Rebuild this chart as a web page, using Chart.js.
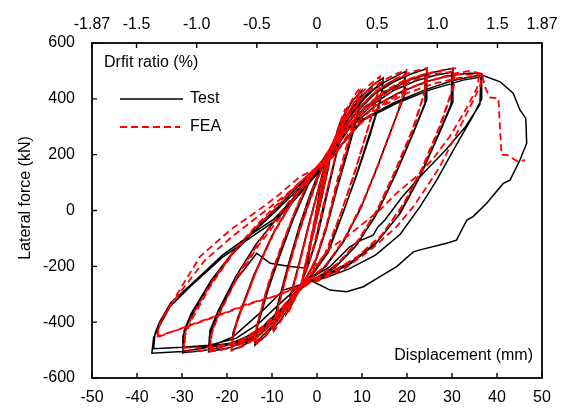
<!DOCTYPE html>
<html>
<head>
<meta charset="utf-8">
<script src="https://cdn.jsdelivr.net/npm/chart.js@4.4.1/dist/chart.umd.min.js"></script>
<style>
  html, body { margin: 0; padding: 0; background: #fff; }
  canvas { display: block; }
</style>
</head>
<body>
<canvas id="hysteresis" width="563" height="416"></canvas>
<script>
// axis ranges
const dispMin = -50, dispMax = 50, dispStep = 10;
const forceMin = -600, forceMax = 600, forceStep = 200;
const driftMax = 1.87;
const driftTicks = [-1.87, -1.5, -1.0, -0.5, 0, 0.5, 1.0, 1.5, 1.87];
const driftLabels = ['-1.87', '-1.5', '-1.0', '-0.5', '0', '0.5', '1.0', '1.5', '1.87'];

// test loops [displacement mm, force kN], two cycles per amplitude
const testLoop1 = [[0,0],[1.5,110],[2.8,190],[3.4,230],[2.6,160],[1,40],[-0.8,-80],[-2.3,-180],[-3.6,-280],[-2.8,-220],[-1.2,-100],[0.2,10],[1.6,115],[3.3,220],[2.5,150],[0.8,30],[-1,-90],[-2.5,-190],[-3.5,-270],[-2.6,-200],[-1,-80]];
const testLoop2 = [[0.5,40],[2,150],[3.5,230],[5,310],[6.5,360],[5.8,300],[4,180],[2,40],[0,-100],[-2,-200],[-3.6,-265],[-5,-320],[-6.8,-370],[-6,-310],[-4,-190],[-2,-60],[0,60],[1.5,140],[3.5,240],[5,300],[6.3,345],[5.6,285],[3.6,160],[1.5,20],[-0.5,-120],[-2.5,-220],[-4,-280],[-5.5,-330],[-6.6,-355],[-5.8,-300],[-3.8,-180],[-1.8,-50]];
const testLoop3 = [[0,60],[1.5,150],[3.5,240],[6,340],[8,395],[10,430],[9.5,380],[7.5,260],[5,120],[2.5,-40],[0,-170],[-3.2,-265],[-5.5,-330],[-8,-390],[-9.7,-425],[-9.2,-370],[-7,-240],[-4.5,-100],[-2,20],[0.5,130],[2.5,200],[5,290],[7.5,360],[9.8,410],[9.2,350],[7,220],[4.5,80],[2,-70],[-0.5,-190],[-3,-255],[-5.5,-320],[-8,-375],[-9.5,-405],[-8.8,-340],[-6.5,-200],[-4,-60],[-1.5,60]];
const testLoop4 = [[1,160],[3.5,240],[6.5,330],[10,410],[12.5,450],[14.7,475],[14.5,420],[12,290],[9,140],[6,0],[2.5,-150],[-1,-230],[-3.4,-265],[-6,-330],[-9,-400],[-11.5,-450],[-13.8,-482],[-13.3,-420],[-11,-290],[-8,-150],[-5,-20],[-2,90],[1,170],[4,250],[7,330],[10.5,400],[13,440],[14.6,460],[14.2,400],[11.8,270],[8.8,125],[5.5,-20],[2,-160],[-1.5,-235],[-4,-280],[-7,-350],[-10,-415],[-12.5,-455],[-13.7,-468],[-13.1,-400],[-10.8,-270],[-7.8,-130],[-4.5,0],[-1.5,110]];
const testLoop5 = [[1.5,175],[4,255],[7.5,345],[11,415],[15,460],[18,485],[19.6,497],[19.6,421],[17,310],[13.5,160],[10,20],[6,-110],[2,-200],[-1.5,-245],[-3.4,-265],[-6.5,-335],[-10,-405],[-13.5,-455],[-16.5,-485],[-19,-500],[-18.7,-440],[-17.5,-380],[-14,-230],[-10,-90],[-6,20],[-2.5,110],[1,175],[4.5,260],[8,340],[12,410],[16,455],[19.5,480],[19.3,405],[16.5,290],[13,140],[9.5,0],[5.5,-120],[1.5,-205],[-2,-250],[-4.5,-290],[-8,-370],[-12,-435],[-15.5,-470],[-18.8,-485],[-18.5,-430],[-17,-360],[-13.5,-215],[-9.5,-75],[-5.5,30],[-2,120]];
const testLoop6 = [[1.5,180],[5,270],[9,355],[13,420],[17,460],[21,490],[24.4,508],[24.4,396],[21.5,280],[17.5,130],[13.5,-5],[9,-120],[4.5,-195],[0,-240],[-3.4,-265],[-7,-340],[-11,-410],[-15,-460],[-19.5,-492],[-24.1,-506],[-23.9,-450],[-22.5,-390],[-18.5,-260],[-13.4,-153],[-10.4,-189],[-6,-201],[-2.3,-207],[-0.5,-40],[1,120],[2,180],[5.5,270],[10,360],[14.5,420],[19,460],[24.2,485],[24,385],[21,265],[17,115],[13,-20],[8.5,-130],[4,-205],[-0.5,-245],[-4,-285],[-8,-360],[-12,-425],[-16.5,-468],[-20.5,-485],[-24,-490],[-23.8,-430],[-22,-360],[-18,-235],[-13.5,-120],[-8.5,-20],[-4,70],[0,150]];
const testLoop7 = [[2,185],[6,285],[11,370],[16,430],[21,470],[26,495],[30.2,510],[30.2,389],[27,270],[23,125],[18.5,-10],[13.5,-110],[8,-180],[2.5,-225],[-1.5,-250],[-3.4,-265],[-7.5,-345],[-12,-415],[-17,-465],[-22,-493],[-26,-503],[-30,-510],[-29.8,-450],[-28.5,-395],[-24,-270],[-19,-160],[-14,-75],[-9,0],[-4,80],[0,150],[3,200],[7,295],[12,375],[17,430],[22,465],[26.5,485],[30,495],[29.8,380],[26.5,255],[22.5,110],[18,-20],[13,-120],[7.5,-190],[2,-235],[-2,-255],[-5,-300],[-9,-380],[-14,-440],[-19,-475],[-24.5,-487],[-29.8,-490],[-29.5,-430],[-28,-370],[-23.5,-250],[-18.5,-145],[-13.5,-60],[-8.5,15],[-4,90],[0,155]];
const testLoop8 = [[3,195],[7,290],[12.5,370],[18,420],[24,460],[30,485],[34,492],[36.6,490],[36.6,400],[34.7,340],[30.3,216],[26.6,109],[22.9,14],[18.5,-85],[13,-160],[7,-210],[2,-240],[-3.4,-265],[-7.5,-285],[-11.9,-356],[-18.6,-452],[-24,-490],[-30,-505],[-36.7,-511],[-36.3,-455],[-34.9,-411],[-32.7,-345],[-28.2,-273],[-20.8,-165],[-13.4,-82],[-9,-34],[-3,73],[1,150],[4.4,216],[10.3,324],[17.7,384],[25.1,432],[32.5,467],[36.4,478],[36.2,380],[33,300],[28.5,215],[24.3,145],[19,50],[15.1,-34],[13.5,-60],[12.5,-88],[10,-105],[7.3,-130],[2.9,-201],[-3.4,-262],[-8,-330],[-13,-405],[-18,-458],[-24,-483],[-30,-490],[-36.3,-495],[-36,-440],[-35,-400],[-32.5,-330],[-28,-265],[-21,-160],[-14,-78],[-9.5,-30],[-3,80],[1,155],[4.4,216]];
// final push past peak and return
const testFinal = [[10,325],[17,385],[24,432],[30,465],[34.5,480],[36.6,485],[40.7,461],[43.6,420],[45.1,360],[46.4,330],[46.6,241],[45.1,181],[42.9,109],[41.4,97],[37.7,26],[34.7,-22],[33.3,-34],[31,-106],[28.8,-117],[22.9,-141],[21.4,-148],[17.7,-201],[14,-237],[10.3,-273],[6.6,-291],[2.9,-285],[-1.6,-249]];

// FEA loops [displacement mm, force kN]
const feaLoop1 = [[0,0],[1.2,100],[2.5,180],[3.4,240],[2.7,175],[1.2,60],[-0.6,-70],[-2.2,-170],[-3.5,-270],[-2.9,-215],[-1.4,-100],[0,10],[1.4,110],[3.2,225],[2.4,155],[0.9,40],[-0.9,-85],[-2.4,-185],[-3.4,-260],[-2.6,-195],[-1.1,-85]];
const feaLoop2 = [[0.4,35],[2,150],[3.6,240],[5,310],[6.3,365],[5.6,300],[3.8,175],[1.8,35],[-0.2,-105],[-2.2,-205],[-3.8,-270],[-5.2,-325],[-6.5,-370],[-5.7,-305],[-3.8,-185],[-1.8,-55],[0.2,65],[1.7,150],[3.7,245],[5.2,310],[6.2,350],[5.4,280],[3.4,150],[1.3,10],[-0.7,-125],[-2.7,-225],[-4.2,-285],[-5.7,-335],[-6.4,-355],[-5.6,-290],[-3.6,-170],[-1.6,-40]];
const feaLoop3 = [[0.2,70],[1.8,160],[3.8,250],[6.2,345],[8.2,410],[9.6,440],[9,385],[7,255],[4.6,115],[2.2,-45],[-0.3,-175],[-3.3,-270],[-5.6,-335],[-8,-395],[-9.5,-430],[-8.9,-365],[-6.8,-235],[-4.3,-95],[-1.8,25],[0.7,135],[2.7,210],[5.2,300],[7.6,370],[9.5,425],[8.9,360],[6.8,225],[4.3,80],[1.8,-75],[-0.7,-195],[-3.2,-262],[-5.7,-325],[-8.1,-380],[-9.4,-410],[-8.6,-340],[-6.3,-200],[-3.8,-55],[-1.3,65]];
const feaLoop4 = [[1.2,165],[3.7,250],[6.7,345],[9.5,415],[12,455],[14,480],[13.6,430],[11.4,300],[8.6,150],[5.6,5],[2.3,-145],[-1.2,-230],[-3.5,-270],[-6.2,-335],[-9.2,-405],[-11.7,-455],[-14,-480],[-13.4,-415],[-11.2,-285],[-8.2,-145],[-5.2,-15],[-2.2,95],[1.2,175],[4.2,260],[7.2,345],[10.2,410],[12.5,450],[13.9,468],[13.4,410],[11.1,280],[8.3,130],[5.2,-15],[1.8,-155],[-1.7,-235],[-4.2,-285],[-7.2,-355],[-10.2,-420],[-12.7,-460],[-13.9,-470],[-13.2,-400],[-10.9,-265],[-7.9,-125],[-4.7,5],[-1.7,115]];
const feaLoop5 = [[1.7,180],[4.2,265],[7.7,355],[11.2,425],[15,468],[18,492],[19.9,503],[19.7,450],[17.5,330],[14,180],[10.3,35],[6.3,-95],[2.3,-190],[-1.2,-240],[-3.5,-268],[-6.7,-340],[-10.2,-410],[-13.7,-460],[-16.7,-488],[-19,-502],[-18.6,-445],[-17.2,-375],[-13.7,-225],[-9.7,-85],[-5.7,25],[-2.2,115],[1.2,180],[4.7,265],[8.2,345],[12.2,415],[16.2,460],[19.7,485],[19.4,420],[16.8,300],[13.3,150],[9.8,10],[5.8,-110],[1.8,-200],[-1.7,-248],[-4.7,-295],[-8.2,-375],[-12.2,-440],[-15.7,-475],[-18.8,-488],[-18.3,-425],[-16.7,-350],[-13.2,-205],[-9.2,-65],[-5.2,40],[-1.7,125]];
const feaLoop6 = [[1.7,185],[5.2,275],[9.2,365],[13.2,430],[17.2,470],[21,497],[24.4,510],[24.2,440],[21.8,310],[18,160],[14,20],[9.5,-100],[5,-185],[0.4,-235],[-3.5,-268],[-7.2,-340],[-11.2,-412],[-15.2,-462],[-19.6,-494],[-23.8,-506],[-23.5,-445],[-22,-380],[-18,-250],[-13,-125],[-8,-20],[-3.5,80],[0.5,160],[2.2,190],[5.7,275],[10.2,365],[14.7,425],[19.2,465],[24.2,490],[23.8,420],[21.2,290],[17.3,140],[13.3,0],[8.8,-115],[4.3,-195],[-0.2,-242],[-4.2,-290],[-8.2,-365],[-12.2,-430],[-16.7,-470],[-20.7,-488],[-23.7,-492],[-23.3,-430],[-21.5,-360],[-17.5,-230],[-12.8,-110],[-8,-5],[-3.7,85],[0.2,155]];
const feaLoop7 = [[2.2,190],[6.2,290],[11.2,375],[16.2,435],[21.2,475],[26.2,498],[30.7,509],[30.4,445],[27.8,320],[24,170],[19.5,30],[14.5,-85],[9,-165],[3.5,-218],[-1,-250],[-3.5,-268],[-7.7,-345],[-12.2,-418],[-17.2,-468],[-22.2,-495],[-26.2,-503],[-29.7,-506],[-29.4,-450],[-27.8,-390],[-23.5,-265],[-18.5,-150],[-13.5,-60],[-8.5,20],[-3.8,100],[0.2,160],[3.2,205],[7.2,300],[12.2,380],[17.2,435],[22.2,470],[26.7,490],[30.4,498],[30,430],[27.2,300],[23.3,150],[18.8,10],[13.8,-100],[8.3,-175],[2.8,-228],[-1.7,-258],[-5.2,-305],[-9.2,-385],[-14.2,-445],[-19.2,-478],[-24.7,-490],[-29.5,-492],[-29.2,-432],[-27.5,-370],[-23,-245],[-18,-135],[-13,-45],[-8,35],[-3.5,105],[0.5,165]];
const feaLoop8 = [[3.6,193],[8,300],[13,375],[19,430],[25,465],[31,487],[36.7,486],[36.2,443],[33.3,348],[30.3,252],[27.3,157],[24.4,85],[21.4,14],[17.7,-58],[12,-140],[6,-210],[0.5,-250],[-3.5,-270],[-9,-305],[-14.9,-332],[-20.8,-368],[-26,-398],[-31.2,-428],[-35.6,-455],[-35.2,-420],[-34.9,-404],[-31.9,-321],[-26,-165],[-19.3,-70],[-11.9,14],[-8.2,60],[-3.8,121],[0.7,157],[3.6,193],[8.5,295],[14,370],[20,420],[26,455],[31.5,475],[36,480],[35.6,440],[33,360],[29.5,265],[26,190],[22.9,133],[17.7,62],[14,2],[10.3,-46],[6.6,-94],[2.9,-135],[-0.5,-200],[-3.5,-265],[-8,-300],[-14,-330],[-20,-365],[-26,-400],[-31,-428],[-35.4,-450],[-35,-410],[-33.5,-360],[-30,-285],[-25,-180],[-19,-95],[-13,-20],[-7,55],[-2.5,120],[1.5,170],[4,205]];
const feaFinal = [[9,305],[15,385],[21,440],[27,475],[31,492],[34,500],[36.6,490],[37.4,440],[38.4,405],[40.3,402],[40.7,288],[41,199],[42.2,199],[44.7,175],[46.2,181]];

const testLoops = [testLoop1, testLoop2, testLoop3, testLoop4, testLoop5, testLoop6, testLoop7, testLoop8, testFinal];
const feaLoops = [feaLoop1, feaLoop2, feaLoop3, feaLoop4, feaLoop5, feaLoop6, feaLoop7, feaLoop8, feaFinal];

const toPoints = loops => loops.flat().map(([x, y]) => ({ x, y }));

const FONT = '"Liberation Sans", Arial, sans-serif';
const DASH = [7, 4];

// frame, inward ticks, legend and in-plot labels
const frameAndLabels = {
    id: 'frameAndLabels',
    afterDatasetsDraw(chart) {
        const { ctx, chartArea: a, scales } = chart;
        ctx.save();
        ctx.strokeStyle = '#000';
        ctx.lineWidth = 1.8;
        ctx.strokeRect(a.left, a.top, a.right - a.left, a.bottom - a.top);

        ctx.lineWidth = 1.4;
        ctx.beginPath();
        scales.x.ticks.forEach(t => {
            const px = scales.x.getPixelForValue(t.value);
            ctx.moveTo(px, a.bottom);
            ctx.lineTo(px, a.bottom - 5);
        });
        scales.x2.ticks.forEach(t => {
            const px = scales.x2.getPixelForValue(t.value);
            ctx.moveTo(px, a.top);
            ctx.lineTo(px, a.top + 5);
        });
        scales.y.ticks.forEach(t => {
            const py = scales.y.getPixelForValue(t.value);
            ctx.moveTo(a.left, py);
            ctx.lineTo(a.left + 5, py);
        });
        ctx.stroke();

        ctx.fillStyle = '#000';
        ctx.font = '16px ' + FONT;
        ctx.textBaseline = 'middle';
        ctx.textAlign = 'left';
        ctx.fillText('Drfit ratio (%)', a.left + 12, a.top + 20);

        ctx.textAlign = 'right';
        ctx.fillText('Displacement (mm)', a.right - 9, a.bottom - 22);

        // legend
        ctx.textAlign = 'left';
        ctx.lineWidth = 1.5;
        ctx.beginPath();
        ctx.moveTo(a.left + 28, a.top + 56);
        ctx.lineTo(a.left + 91, a.top + 56);
        ctx.stroke();
        ctx.fillText('Test', a.left + 98, a.top + 56);

        ctx.strokeStyle = '#ff0000';
        ctx.lineWidth = 1.8;
        ctx.setLineDash(DASH);
        ctx.beginPath();
        ctx.moveTo(a.left + 28, a.top + 84);
        ctx.lineTo(a.left + 88, a.top + 84);
        ctx.stroke();
        ctx.setLineDash([]);
        ctx.fillText('FEA', a.left + 98, a.top + 84);

        // y axis title
        ctx.translate(26, 198);
        ctx.rotate(-Math.PI / 2);
        ctx.textAlign = 'center';
        ctx.fillText('Lateral force (kN)', 0, 0);
        ctx.restore();
    }
};

new Chart(document.getElementById('hysteresis'), {
    type: 'scatter',
    data: {
        datasets: [
            {
                label: 'FEA',
                data: toPoints(feaLoops),
                showLine: true,
                borderColor: '#ff0000',
                borderWidth: 1.8,
                borderDash: DASH,
                pointRadius: 0,
                tension: 0,
                order: 0
            },
            {
                label: 'Test',
                data: toPoints(testLoops),
                showLine: true,
                borderColor: '#000000',
                borderWidth: 1.5,
                pointRadius: 0,
                tension: 0,
                order: 1
            }
        ]
    },
    options: {
        responsive: false,
        animation: false,
        devicePixelRatio: 1,
        layout: { padding: { left: 0, right: 21, top: 0, bottom: 0 } },
        plugins: {
            legend: { display: false },
            tooltip: { enabled: false }
        },
        scales: {
            x: {
                type: 'linear',
                position: 'bottom',
                min: dispMin,
                max: dispMax,
                grid: { display: false },
                border: { display: false },
                ticks: {
                    stepSize: dispStep,
                    padding: 2,
                    color: '#000',
                    font: { family: FONT, size: 16 },
                    maxRotation: 0
                },
                afterFit: scale => { scale.height = 38; }
            },
            x2: {
                type: 'linear',
                position: 'top',
                min: -driftMax,
                max: driftMax,
                grid: { display: false },
                border: { display: false },
                afterBuildTicks: scale => {
                    scale.ticks = driftTicks.map(v => ({ value: v }));
                },
                ticks: {
                    padding: 1,
                    color: '#000',
                    font: { family: FONT, size: 16 },
                    maxRotation: 0,
                    autoSkip: false,
                    callback: (v, i) => driftLabels[i]
                },
                afterFit: scale => { scale.height = 43; }
            },
            y: {
                type: 'linear',
                min: forceMin,
                max: forceMax,
                grid: { display: false },
                border: { display: false },
                ticks: {
                    stepSize: forceStep,
                    padding: 9,
                    color: '#000',
                    font: { family: FONT, size: 16 }
                },
                afterFit: scale => { scale.width = 92; }
            }
        }
    },
    plugins: [frameAndLabels]
});
</script>
</body>
</html>
